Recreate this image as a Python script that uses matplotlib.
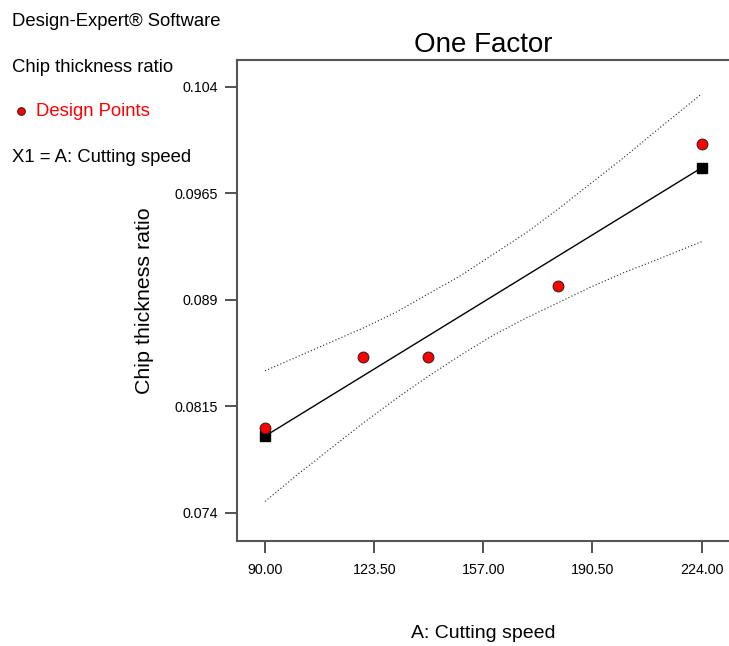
import matplotlib
matplotlib.use("Agg")
import matplotlib.pyplot as plt

plt.rcParams['font.family'] = ['Liberation Sans', 'DejaVu Sans']

# design points
speed = [90, 120, 140, 180, 224]
ratio = [0.080, 0.085, 0.085, 0.090, 0.100]

# fitted line (end points shown as black squares)
fit_x = [90, 224]
fit_y = [0.0794, 0.0983]

# 95% confidence band
band_x = [90, 100, 110, 120, 130, 140, 150, 160, 170, 180, 190, 200, 210, 224]
band_hi = [0.0840, 0.0850, 0.0860, 0.0870, 0.0881, 0.0894, 0.0907,
           0.0922, 0.0937, 0.0954, 0.0972, 0.0990, 0.1009, 0.1035]
band_lo = [0.0748, 0.0767, 0.0785, 0.0803, 0.0820, 0.0836, 0.0851,
           0.0865, 0.0877, 0.0888, 0.0899, 0.0909, 0.0918, 0.0931]

x_ticks = [90.0, 123.5, 157.0, 190.5, 224.0]
x_labels = ["90.00", "123.50", "157.00", "190.50", "224.00"]
y_ticks = [0.074, 0.0815, 0.089, 0.0965, 0.104]
y_labels = ["0.074", "0.0815", "0.089", "0.0965", "0.104"]

fig = plt.figure(figsize=(7.29, 6.46), dpi=100)
ax = fig.add_axes([0.3247, 0.1625, 0.6753, 0.7446])

ax.plot(band_x, band_hi, color='#222222', lw=0.8, ls=(0, (1, 2)))
ax.plot(band_x, band_lo, color='#222222', lw=0.8, ls=(0, (1, 2)))
ax.plot(fit_x, fit_y, color='black', lw=1.0, marker='s', ms=7,
        mfc='black', mec='black', zorder=3)
ax.scatter(speed, ratio, s=60, c='red', edgecolors='#402020',
           linewidths=0.8, zorder=4)

ax.set_xlim(81.3, 232.4)
ax.set_ylim(0.07201, 0.10589)
ax.set_xticks(x_ticks, x_labels)
ax.set_yticks(y_ticks, y_labels)
ax.tick_params(direction='out', length=8.5, width=1.3, color='#444444',
               labelsize=10.3)
ax.tick_params(axis='x', pad=7)
ax.tick_params(axis='y', pad=5)
for side in ['left', 'bottom', 'top']:
    ax.spines[side].set_color('#555555')
    ax.spines[side].set_linewidth(1.5)
ax.spines['right'].set_visible(False)

ax.set_title("One Factor", fontsize=20, pad=6)
ax.set_ylabel("Chip thickness ratio", fontsize=15.4, labelpad=15)
ax.set_xlabel("A: Cutting speed", fontsize=14, labelpad=35)

# info block on the left
fs = 13.3
fig.text(12 / 729, 1 - 22 / 646, "Design-Expert\u00ae Software",
         fontsize=fs, va='center', ha='left')
fig.text(12 / 729, 1 - 67 / 646, "Chip thickness ratio",
         fontsize=fs, va='center', ha='left')
fig.lines.append(plt.Line2D([21 / 729], [1 - 111 / 646], marker='o', ms=5.5,
                            mfc='red', mec='#402020', mew=0.8,
                            transform=fig.transFigure, figure=fig))
fig.text(36 / 729, 1 - 112 / 646, "Design Points", color='red',
         fontsize=fs, va='center', ha='left')
fig.text(12 / 729, 1 - 158 / 646, "X1 = A: Cutting speed",
         fontsize=fs, va='center', ha='left')

fig.savefig("out.png", dpi=100)
